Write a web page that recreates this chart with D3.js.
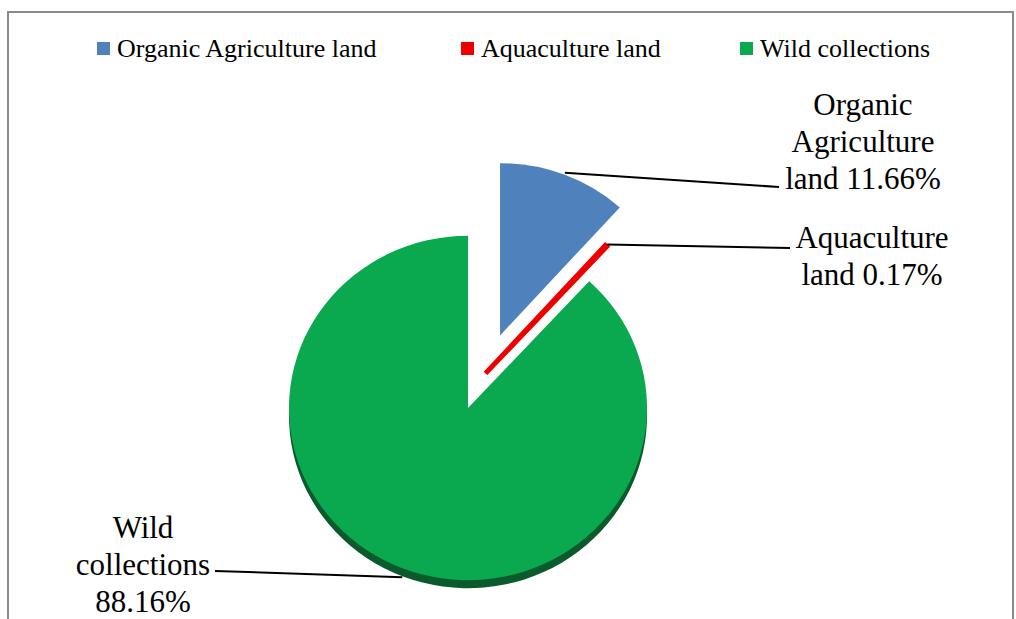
<!DOCTYPE html>
<html>
<head>
<meta charset="utf-8">
<script src="https://cdn.jsdelivr.net/npm/d3@7"></script>
<style>
  html, body { margin: 0; padding: 0; background: #fff; }
  svg { display: block; }
  text { font-family: "Liberation Serif", "Times New Roman", serif; fill: #000; }
</style>
</head>
<body>
<svg id="chart" width="1016" height="619"></svg>
<script>
// ---- data ----
const categories = ["Organic Agriculture land", "Aquaculture land", "Wild collections"];
const values = [11.66, 0.17, 88.16];
const labelLines = [
  ["Organic", "Agriculture", "land 11.66%"],
  ["Aquaculture", "land 0.17%"],
  ["Wild", "collections", "88.16%"]
];

// ---- style / layout ----
const colors = ["#4f81bd", "#ee0000", "#0aa84f"];
const sideColor = "#0b5a2c";
const W = 1016, H = 619;
const cx = 468, cy = 408, R = 179, tilt = 0.962, depth = 8;
const explodeDist = [82, 40, 0];
const explodeDir = [23, 26, 0]; // degrees, clockwise from 12 o'clock
const labelAnchor = [[863, 115], [872, 248], [143, 538]];
const lineEnd = [[779, 187], [790, 248], [215, 571]];
const lineH = 37;

const svg = d3.select("#chart");

// frame
svg.append("rect").attr("x", 8).attr("y", 12).attr("width", 1005).attr("height", 660)
  .attr("fill", "none").attr("stroke", "#8a8a8a").attr("stroke-width", 2);

// legend
const legendX = [97, 461, 740];
const lg = svg.append("g");
categories.forEach((c, i) => {
  lg.append("rect").attr("x", legendX[i]).attr("y", 42).attr("width", 13).attr("height", 13)
    .attr("fill", colors[i]);
  lg.append("text").attr("x", legendX[i] + 20).attr("y", 57).attr("font-size", 26).text(c);
});

// pie
const pie = d3.pie().sort(null).value(d => d).startAngle(0).endAngle(2 * Math.PI);
const arcs = pie(values);
const arc = d3.arc().innerRadius(0).outerRadius(R);

function offset(i) {
  const a = explodeDir[i] * Math.PI / 180;
  return [explodeDist[i] * Math.sin(a), -explodeDist[i] * Math.cos(a) * tilt];
}

const defs = svg.append("defs");
defs.append("clipPath").attr("id", "lowerHalf")
  .append("rect").attr("x", 0).attr("y", cy).attr("width", W).attr("height", H);

// side (depth) of the big slice, visible only along the front edge
const sideG = svg.append("g").attr("clip-path", "url(#lowerHalf)");
arcs.forEach((d, i) => {
  if (explodeDist[i] !== 0) return;
  const [ox, oy] = offset(i);
  sideG.append("path")
    .attr("transform", `translate(${cx + ox},${cy + oy + depth}) scale(1,${tilt})`)
    .attr("d", arc(d))
    .attr("fill", sideColor);
});

const pieG = svg.append("g");
arcs.forEach((d, i) => {
  const [ox, oy] = offset(i);
  pieG.append("path")
    .attr("transform", `translate(${cx + ox},${cy + oy}) scale(1,${tilt})`)
    .attr("d", arc(d))
    .attr("fill", colors[i])
    .attr("stroke", (d.endAngle - d.startAngle) < 0.05 ? colors[i] : "none")
    .attr("stroke-width", 5)
    .attr("stroke-linejoin", "miter");
});

// leader lines + labels
arcs.forEach((d, i) => {
  const [ox, oy] = offset(i);
  const mid = (d.startAngle + d.endAngle) / 2;
  const sx = cx + ox + Math.sin(mid) * (R + 2);
  const sy = cy + oy - Math.cos(mid) * (R + 2) * tilt + (Math.cos(mid) < 0 ? depth - 1 : 0);
  svg.append("line")
    .attr("x1", sx).attr("y1", sy)
    .attr("x2", lineEnd[i][0]).attr("y2", lineEnd[i][1])
    .attr("stroke", "#000").attr("stroke-width", 2);
  const t = svg.append("text").attr("text-anchor", "middle").attr("font-size", 31);
  labelLines[i].forEach((s, k) => {
    t.append("tspan").attr("x", labelAnchor[i][0]).attr("y", labelAnchor[i][1] + k * lineH).text(s);
  });
});
</script>
</body>
</html>
